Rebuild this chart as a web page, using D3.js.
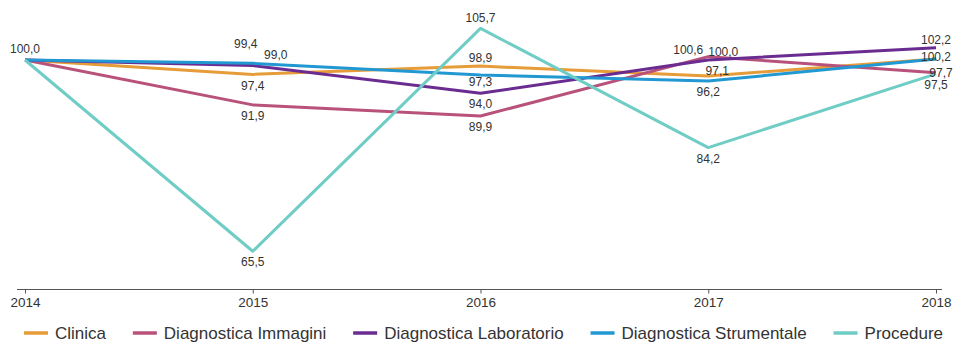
<!DOCTYPE html>
<html>
<head>
<meta charset="utf-8">
<script src="https://cdn.jsdelivr.net/npm/d3@7"></script>
<style>
    body { margin: 0; background: #fff; }
    #chart { width: 955px; height: 344px; }
    text { font-family: "Liberation Sans", Arial, sans-serif; }
</style>
</head>
<body>
<div id="chart"></div>
<script>

// data
let years = [2014, 2015, 2016, 2017, 2018];
let seriesNames = ["Clinica", "Diagnostica Immagini", "Diagnostica Laboratorio", "Diagnostica Strumentale", "Procedure"];
let clinica = [100.0, 97.4, 98.9, 97.1, 100.2];
let immagini = [100.0, 91.9, 89.9, 100.6, 97.7];
let laboratorio = [100.0, 99.0, 94.0, 100.0, 102.2];
let strumentale = [100.0, 99.4, 97.3, 96.2, 100.2];
let procedure = [100.0, 65.5, 105.7, 84.2, 97.5];

let seriesColors = ["#e69c38", "#b8527b", "#6a2c91", "#2198d2", "#6fcdc5"];

// labels that the original layout pushed out of the way (dx, dy from default spot)
let labelShift = {
    "Diagnostica Strumentale|2015": [-7, -9],
    "Diagnostica Laboratorio|2015": [23, 0],
    "Clinica|2016": [0, 3],
    "Diagnostica Strumentale|2016": [0, -4],
    "Diagnostica Immagini|2017": [-20, 4],
    "Diagnostica Laboratorio|2017": [15, 3],
    "Clinica|2017": [9, -16],
    "Diagnostica Laboratorio|2018": [0, 3],
    "Clinica|2018": [0, 9],
    "Diagnostica Immagini|2018": [5, -11]
};


class LineChart {

    constructor(parentElement) {
        this.parentElement = parentElement;
        this.initVis();
    }

    initVis() {
        let vis = this;

        vis.width = 955;
        vis.height = 344;

        vis.svg = d3.select("#" + vis.parentElement).append("svg")
            .attr("width", vis.width)
            .attr("height", vis.height);

        vis.x = d3.scalePoint()
            .domain(years)
            .range([25, 936]);

        vis.y = d3.scaleLinear()
            .domain([58.6, 105.7])
            .range([289.5, 28.4]);

        vis.wrangleData();
    }

    wrangleData() {
        let vis = this;
        let values = [clinica, immagini, laboratorio, strumentale, procedure];

        vis.displayData = seriesNames.map((name, i) => ({
            name: name,
            color: seriesColors[i],
            points: years.map((yr, j) => ({year: yr, value: values[i][j]}))
        }));

        vis.updateVis();
    }

    updateVis() {
        let vis = this;
        let fmt = v => d3.format(".1f")(v).replace(".", ",");

        // x axis
        let axis = vis.svg.append("g")
            .attr("transform", "translate(0,289.5)")
            .call(d3.axisBottom(vis.x).tickSize(4).tickSizeOuter(0).tickPadding(4));
        axis.select(".domain")
            .attr("d", "M17,0H942")
            .attr("stroke", "#555");
        axis.selectAll(".tick line").attr("stroke", "#555");
        axis.selectAll(".tick text")
            .attr("fill", "#333")
            .style("font-size", "13.5px")
            .style("font-family", "'Liberation Sans', Arial, sans-serif");

        // lines
        let line = d3.line()
            .x(d => vis.x(d.year))
            .y(d => vis.y(d.value));

        vis.svg.selectAll(".series")
            .data(vis.displayData)
            .enter()
            .append("path")
            .attr("class", "series")
            .attr("d", d => line(d.points))
            .attr("fill", "none")
            .attr("stroke", d => d.color)
            .attr("stroke-width", 3)
            .attr("stroke-linejoin", "round");

        // value labels: two highest above, rest below, one label per repeated value
        let labels = [];
        years.forEach((yr, j) => {
            let ranked = vis.displayData
                .map(s => ({name: s.name, value: s.points[j].value}))
                .sort((a, b) => b.value - a.value);
            let seen = new Set();
            ranked.forEach((r, k) => {
                let txt = fmt(r.value);
                if (seen.has(txt)) return;
                seen.add(txt);
                let shift = labelShift[r.name + "|" + yr] || [0, 0];
                let dy = (k < 2 ? -11 : 11) + shift[1];
                labels.push({
                    text: txt,
                    x: vis.x(yr) + shift[0],
                    y: vis.y(r.value) + dy
                });
            });
        });

        vis.svg.selectAll(".val")
            .data(labels)
            .enter()
            .append("text")
            .attr("class", "val")
            .attr("x", d => d.x)
            .attr("y", d => d.y)
            .attr("dy", "0.35em")
            .attr("text-anchor", "middle")
            .attr("fill", "#333")
            .style("font-size", "12px")
            .text(d => d.text);

        // legend, spread from left to right edge
        let legend = vis.svg.append("g");
        let items = legend.selectAll(".item")
            .data(vis.displayData)
            .enter()
            .append("g")
            .attr("class", "item");

        items.append("line")
            .attr("x1", 0).attr("x2", 24)
            .attr("y1", 0).attr("y2", 0)
            .attr("stroke", d => d.color)
            .attr("stroke-width", 3.5);

        items.append("text")
            .attr("x", 31)
            .attr("dy", "0.35em")
            .attr("fill", "#333")
            .style("font-size", "17px")
            .text(d => d.name);

        let widths = [];
        items.each(function () {
            widths.push(31 + d3.select(this).select("text").node().getComputedTextLength());
        });
        let left = 24, right = 943;
        let gap = (right - left - d3.sum(widths)) / (widths.length - 1);
        let pos = left;
        items.attr("transform", (d, i) => {
            let t = "translate(" + pos + ",333)";
            pos += widths[i] + gap;
            return t;
        });
    }
}

new LineChart("chart");

</script>
</body>
</html>
